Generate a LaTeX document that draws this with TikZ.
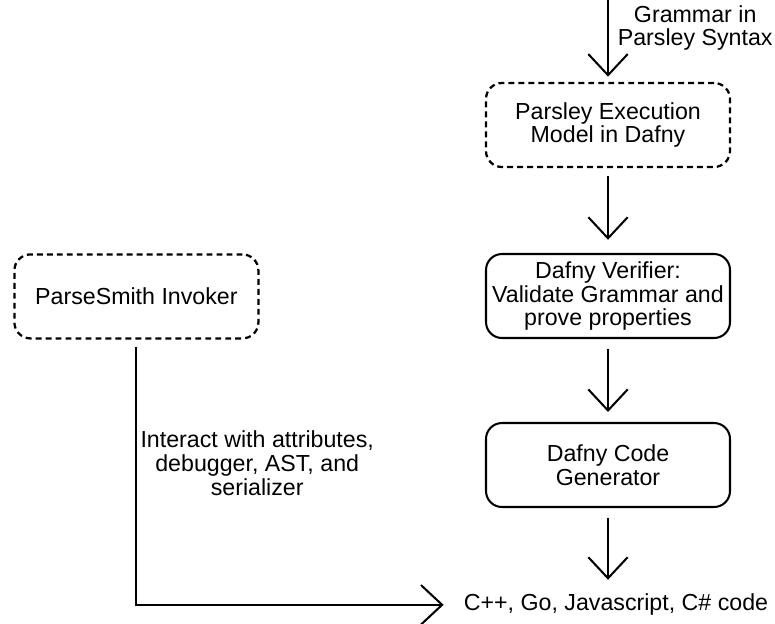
\documentclass[tikz,border=0pt]{standalone}
\usepackage{fontspec}
\setmainfont{Liberation Sans}
\usetikzlibrary{arrows.meta,positioning}

\begin{document}
\begin{tikzpicture}[>={Straight Barb[length=15pt,width=28pt]},line width=1.45pt,font=\fontsize{16.5}{17}\selectfont]
\tikzstyle{b}=[draw,rounded corners=0.4cm,minimum width=6.1cm,minimum height=2.1cm,align=center]
\tikzstyle{db}=[b,line width=1.6pt,dash pattern=on 4.2pt off 2.9pt]
\useasboundingbox (0,0) rectangle (19.375,-15.575);
% pipeline on the right
\coordinate (src) at (15.2,0);
\node[align=center] (gram) at (17.38,-0.7) {Grammar in\\Parsley Syntax};
\node[db] (model) at (15.2,-3.125) {Parsley Execution\\Model in Dafny};
\node[b] (verif) at (15.2,-7.4) {Dafny Verifier:\\Validate Grammar and\\prove properties};
\node[b] (gen) at (15.2,-11.625) {Dafny Code\\Generator};
\node[inner sep=0] (out) at (15.4,-15.12) {C++, Go, Javascript, C\# code};
\draw[->,shorten >=0.13cm] (src) -- (model.north);
\draw[->,shorten <=0.2cm,shorten >=0.33cm] (model.south) -- (verif.north);
\draw[->,shorten <=0.25cm,shorten >=0.25cm] (verif.south) -- (gen.north);
\draw[->,shorten <=0.25cm,shorten >=0.33cm] (gen.south) -- (gen.south |- out.north);
% invoker on the left
\node[db] (inv) at (3.41,-7.41) {ParseSmith Invoker};
\node[align=center] (act) at (6.43,-11.575) {Interact with attributes,\\debugger, AST, and\\serializer};
\draw[->,shorten <=0.18cm,shorten >=0.48cm] (inv.south) |- (out.west);
\end{tikzpicture}
\end{document}
